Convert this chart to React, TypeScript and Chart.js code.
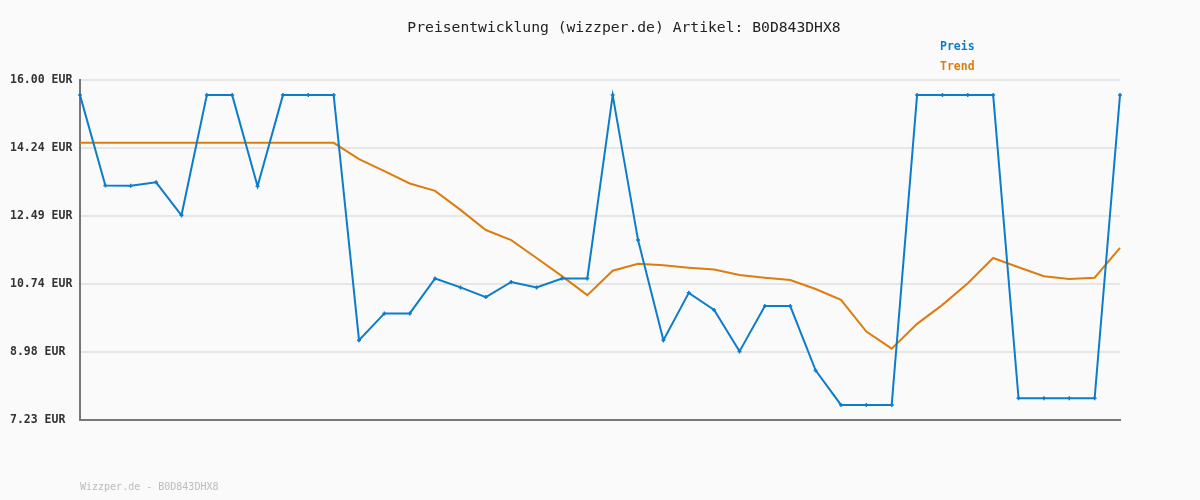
import React, { useEffect, useRef } from "react";
import { Chart, registerables } from "chart.js";

Chart.register(...registerables);

const titleText = "Preisentwicklung (wizzper.de) Artikel: B0D843DHX8";
const footerText = "Wizzper.de - B0D843DHX8";
const seriesNames = ["Preis", "Trend"];

const categories = [
  "1", "2", "3", "4", "5", "6", "7", "8", "9", "10",
  "11", "12", "13", "14", "15", "16", "17", "18", "19", "20",
  "21", "22", "23", "24", "25", "26", "27", "28", "29", "30",
  "31", "32", "33", "34", "35", "36", "37", "38", "39", "40",
  "41", "42",
];

const preis = [
  15.61, 13.28, 13.27, 13.36, 12.51, 15.61, 15.61, 13.26, 15.61, 15.61,
  15.61, 9.29, 9.98, 9.98, 10.88, 10.65, 10.40, 10.79, 10.65, 10.88,
  10.88, 15.61, 11.87, 9.29, 10.51, 10.07, 9.00, 10.17, 10.17, 8.51,
  7.62, 7.62, 7.62, 15.61, 15.61, 15.61, 15.61, 7.79, 7.79, 7.79,
  7.79, 15.61,
];

const trend = [
  14.38, 14.38, 14.38, 14.38, 14.38, 14.38, 14.38, 14.38, 14.38, 14.38,
  14.38, 13.96, 13.65, 13.33, 13.14, 12.65, 12.13, 11.87, 11.41, 10.94,
  10.45, 11.08, 11.26, 11.22, 11.16, 11.11, 10.97, 10.90, 10.84, 10.61,
  10.33, 9.51, 9.07, 9.71, 10.20, 10.76, 11.41, 11.17, 10.94, 10.87,
  10.90, 11.67,
];

const yTicks = [7.23, 8.98, 10.74, 12.49, 14.24, 16.0];

const BLUE = "#0d7dca";
const ORANGE = "#dd7d0e";

export default function App() {
  const ref = useRef<HTMLCanvasElement | null>(null);

  useEffect(() => {
    if (!ref.current) return;
    const textPlugin = {
      id: "texts",
      beforeDraw(chart: any) {
        const ctx = chart.ctx;
        ctx.save();
        ctx.fillStyle = "#fafafa";
        ctx.fillRect(0, 0, chart.width, chart.height);
        ctx.restore();
      },
      afterDraw(chart: any) {
        const ctx = chart.ctx;
        ctx.save();
        ctx.textBaseline = "middle";
        ctx.font = "14.7px 'DejaVu Sans Mono'";
        ctx.fillStyle = "#222222";
        ctx.textAlign = "center";
        ctx.fillText(titleText, 624, 28);
        ctx.textAlign = "left";
        ctx.font = "bold 11.5px 'DejaVu Sans Mono'";
        ctx.fillStyle = BLUE;
        ctx.fillText(seriesNames[0], 940, 47);
        ctx.fillStyle = ORANGE;
        ctx.fillText(seriesNames[1], 940, 67);
        ctx.font = "10px 'DejaVu Sans Mono'";
        ctx.fillStyle = "#bbbbbb";
        ctx.fillText(footerText, 80, 487);
        ctx.restore();
      },
    };

    const chart = new Chart(ref.current, {
      type: "line",
      data: {
        labels: categories,
        datasets: [
          {
            label: seriesNames[0],
            data: preis,
            borderColor: BLUE,
            backgroundColor: BLUE,
            borderWidth: 2,
            pointStyle: "cross",
            pointRadius: 2,
            pointBorderWidth: 1.5,
            pointBorderColor: BLUE,
            tension: 0,
            order: 1,
          },
          {
            label: seriesNames[1],
            data: trend,
            borderColor: ORANGE,
            backgroundColor: ORANGE,
            borderWidth: 2,
            pointRadius: 0,
            tension: 0,
            order: 2,
          },
        ],
      },
      options: {
        responsive: false,
        animation: false,
        layout: { padding: { left: 10, right: 80, top: 80, bottom: 80 } },
        plugins: {
          legend: { display: false },
          title: { display: false },
          tooltip: { enabled: false },
        },
        scales: {
          x: {
            type: "category",
            offset: false,
            ticks: { display: false },
            grid: { display: false, drawTicks: false },
            border: { display: true, color: "#777777", width: 2 },
            afterFit: (s: any) => {
              s.height = 0;
            },
          },
          y: {
            min: 7.23,
            max: 16.0,
            afterBuildTicks: (s: any) => {
              s.ticks = yTicks.map((v) => ({ value: v }));
            },
            afterFit: (s: any) => {
              s.width = 70;
            },
            ticks: {
              crossAlign: "far",
              padding: 0,
              color: "#333333",
              font: { family: "'DejaVu Sans Mono'", size: 11.5, weight: "bold" },
              callback: (v: any) => Number(v).toFixed(2) + " EUR",
            },
            grid: {
              color: "#e6e6e6",
              lineWidth: 2,
              drawTicks: false,
              tickLength: 0,
            },
            border: { display: true, color: "#777777", width: 2 },
          },
        },
      },
      plugins: [textPlugin],
    });
    return () => chart.destroy();
  }, []);

  return (
    <div style={{ position: "fixed", left: 0, top: 0, width: 1200, height: 500, background: "#fafafa" }}>
      <canvas ref={ref} width={1200} height={500} style={{ width: 1200, height: 500, display: "block" }} />
    </div>
  );
}
